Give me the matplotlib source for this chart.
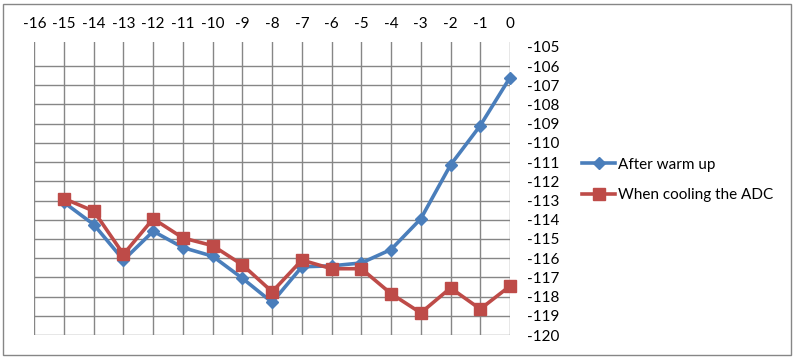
import matplotlib.pyplot as plt
from matplotlib.patches import Rectangle

plt.rcParams['font.family'] = ['Lato', 'DejaVu Sans']
plt.rcParams['axes.unicode_minus'] = False

# Данные
x_vals = [-15, -14, -13, -12, -11, -10, -9, -8, -7, -6, -5, -4, -3, -2, -1, 0]
warm_up = [-113.1, -114.25, -116.1, -114.6, -115.45, -115.9, -117.05, -118.3,
           -116.45, -116.4, -116.25, -115.55, -113.95, -111.15, -109.1, -106.6]
cooling = [-112.9, -113.55, -115.8, -113.95, -114.95, -115.35, -116.35, -117.75,
           -116.1, -116.55, -116.55, -117.85, -118.85, -117.55, -118.65, -117.45]
x_ticks = list(range(-16, 1))
y_ticks = list(range(-120, -104))

W, H = 797, 361
fig = plt.figure(figsize=(W / 100, H / 100), dpi=100)

# Рамка вокруг всей диаграммы
fig.patches.append(Rectangle((3 / W, 6 / H), 788 / W, 351 / H, transform=fig.transFigure,
                             fill=False, edgecolor='#868686', linewidth=1))

left, right = 34.3 / W, 510 / W
bottom, top = 1 - 335 / H, 1 - 42 / H
ax = fig.add_axes([left, bottom, right - left, top - bottom])

ax.plot(x_vals, warm_up, color='#4A7EBB', lw=2.6, marker='D', ms=6.5,
        label='After warm up', clip_on=False, zorder=3)
ax.plot(x_vals, cooling, color='#BE4B48', lw=2.6, marker='s', ms=8,
        label='When cooling the ADC', clip_on=False, zorder=3)

ax.set_xlim(-16, 0)
ax.set_ylim(-120, -104.75)
ax.set_xticks(x_ticks)
ax.set_yticks(y_ticks)
ax.xaxis.tick_top()
ax.yaxis.tick_right()
ax.tick_params(length=0, labelsize=11, colors='black')
ax.tick_params(axis='x', pad=8)
ax.tick_params(axis='y', pad=12)
for lab in ax.get_yticklabels():
    lab.set_horizontalalignment('left')
ax.grid(True, color='#868686', linewidth=1)
for t in ax.yaxis.get_major_ticks():
    if t.get_loc() == -105:
        t.gridline.set_visible(False)
for s in ax.spines.values():
    s.set_visible(False)

ax.legend(loc='center left', bbox_to_anchor=(568 / W, 1 - 180 / H),
          bbox_transform=fig.transFigure, frameon=False, fontsize=11,
          handlelength=2.2, labelspacing=1.1, handletextpad=0.2)

fig.savefig('out.png', dpi=100)
